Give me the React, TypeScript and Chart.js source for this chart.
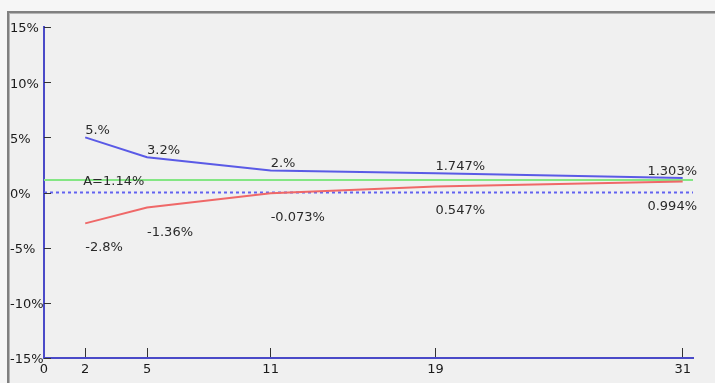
import React, { useEffect, useRef } from "react";
import { Chart, registerables } from "chart.js";

Chart.register(...registerables);

// ---- data ----
const X_POINTS = [2, 5, 11, 19, 31];
const UPPER = [5.0, 3.2, 2.0, 1.747, 1.303];
const LOWER = [-2.8, -1.36, -0.073, 0.547, 0.994];
const UPPER_LABELS = ["5.%", "3.2%", "2.%", "1.747%", "1.303%"];
const LOWER_LABELS = ["-2.8%", "-1.36%", "-0.073%", "0.547%", "0.994%"];
const AVERAGE = 1.14;
const AVERAGE_LABEL = "A=1.14%";
const X_TICKS = [0, 2, 5, 11, 19, 31];
const X_MIN = 0;
const X_MAX = 31.5;
const Y_MIN = -15;
const Y_MAX = 15;
const Y_STEP = 5;

const FONT = '"DejaVu Sans", sans-serif';

const framePlugin = {
  id: "frame",
  beforeDraw(chart: any) {
    const { ctx, width, height } = chart;
    ctx.save();
    ctx.fillStyle = "#f6f6f6";
    ctx.fillRect(0, 0, width, height);
    ctx.fillStyle = "#f0f0f0";
    ctx.fillRect(8, 12, width - 8, height - 12);
    ctx.fillStyle = "#808080";
    ctx.fillRect(7, 11, width - 7, 2);
    ctx.fillRect(7, 11, 2, height - 11);
    ctx.fillStyle = "#b4b4b4";
    ctx.fillRect(9, 13, width - 9, 1);
    ctx.fillRect(9, 13, 1, height - 13);
    ctx.restore();
  },
};

const yTickPlugin = {
  id: "yInnerTicks",
  afterDraw(chart: any) {
    const { ctx, chartArea } = chart;
    const ys = chart.scales.y;
    ctx.save();
    ctx.strokeStyle = "#333333";
    ctx.lineWidth = 1;
    ys.ticks.forEach((t: any) => {
      const py = Math.round(ys.getPixelForValue(t.value)) + 0.5;
      ctx.beginPath();
      ctx.moveTo(chartArea.left, py);
      ctx.lineTo(chartArea.left + 7, py);
      ctx.stroke();
    });
    ctx.restore();
  },
};

const labelPlugin = {
  id: "pointLabels",
  afterDatasetsDraw(chart: any) {
    const { ctx, chartArea } = chart;
    const xs = chart.scales.x;
    const ys = chart.scales.y;
    ctx.save();
    ctx.font = `13px ${FONT}`;
    ctx.fillStyle = "#2a2a2a";
    ctx.textAlign = "left";
    ctx.textBaseline = "alphabetic";
    const rightLimit = chartArea.right + 4;
    X_POINTS.forEach((xv, i) => {
      const px = xs.getPixelForValue(xv);
      const up = UPPER_LABELS[i];
      const uw = ctx.measureText(up).width;
      ctx.fillText(up, Math.min(px, rightLimit - uw), ys.getPixelForValue(UPPER[i]) - 3);
      const lo = LOWER_LABELS[i];
      const lw = ctx.measureText(lo).width;
      ctx.fillText(lo, Math.min(px, rightLimit - lw), ys.getPixelForValue(LOWER[i]) + 28);
    });
    const ax = xs.getPixelForValue(X_POINTS[0]) - 2;
    ctx.fillText(AVERAGE_LABEL, ax, ys.getPixelForValue(AVERAGE) + 5);
    ctx.restore();
  },
};

export default function App() {
  const ref = useRef<HTMLCanvasElement | null>(null);

  useEffect(() => {
    if (!ref.current) return;
    Chart.defaults.font.family = FONT;
    Chart.defaults.font.size = 13;
    const chart = new Chart(ref.current, {
      type: "line",
      data: {
        datasets: [
          {
            label: "upper",
            data: X_POINTS.map((x, i) => ({ x, y: UPPER[i] })),
            borderColor: "#5a5ae6",
            borderWidth: 2,
            pointRadius: 0,
            fill: false,
          },
          {
            label: "lower",
            data: X_POINTS.map((x, i) => ({ x, y: LOWER[i] })),
            borderColor: "#ef6868",
            borderWidth: 2,
            pointRadius: 0,
            fill: false,
          },
          {
            label: "zero",
            data: [
              { x: X_MIN, y: 0 },
              { x: X_MAX, y: 0 },
            ],
            borderColor: "#6262f0",
            borderWidth: 2,
            borderDash: [3, 3],
            pointRadius: 0,
            fill: false,
          },
          {
            label: "average",
            data: [
              { x: X_MIN, y: AVERAGE },
              { x: X_MAX, y: AVERAGE },
            ],
            borderColor: "#84e684",
            borderWidth: 2,
            pointRadius: 0,
            fill: false,
          },
        ],
      },
      options: {
        animation: false,
        responsive: false,
        devicePixelRatio: 1,
        layout: { padding: { left: 10, top: 27, right: 22, bottom: 0 } },
        plugins: {
          legend: { display: false },
          tooltip: { enabled: false },
        },
        scales: {
          x: {
            type: "linear",
            min: X_MIN,
            max: X_MAX,
            afterBuildTicks: (scale: any) => {
              scale.ticks = X_TICKS.map((v) => ({ value: v }));
            },
            afterFit: (scale: any) => {
              scale.height = 25;
            },
            ticks: {
              color: "#1a1a1a",
              padding: 14,
              maxRotation: 0,
              autoSkip: false,
              font: { size: 13, family: FONT },
              callback: (v: any) => String(v),
            },
            grid: {
              display: true,
              drawOnChartArea: false,
              drawTicks: true,
              tickLength: -10,
              tickColor: "#333333",
              tickWidth: 1,
            },
            border: { display: true, color: "#4a4ac8", width: 2 },
          },
          y: {
            type: "linear",
            min: Y_MIN,
            max: Y_MAX,
            afterFit: (scale: any) => {
              scale.width = 34;
            },
            ticks: {
              stepSize: Y_STEP,
              color: "#1a1a1a",
              crossAlign: "far",
              labelOffset: 2,
              font: { size: 13, family: FONT },
              callback: (v: any) => `${v}%`,
            },
            grid: {
              display: false,
              drawOnChartArea: false,
              drawTicks: false,
            },
            border: { display: true, color: "#4a4ac8", width: 2 },
          },
        },
      },
      plugins: [framePlugin, labelPlugin, yTickPlugin],
    });
    return () => chart.destroy();
  }, []);

  return (
    <div style={{ position: "absolute", left: 0, top: 0, width: 715, height: 383 }}>
      <canvas ref={ref} width={715} height={383} style={{ display: "block" }} />
    </div>
  );
}
